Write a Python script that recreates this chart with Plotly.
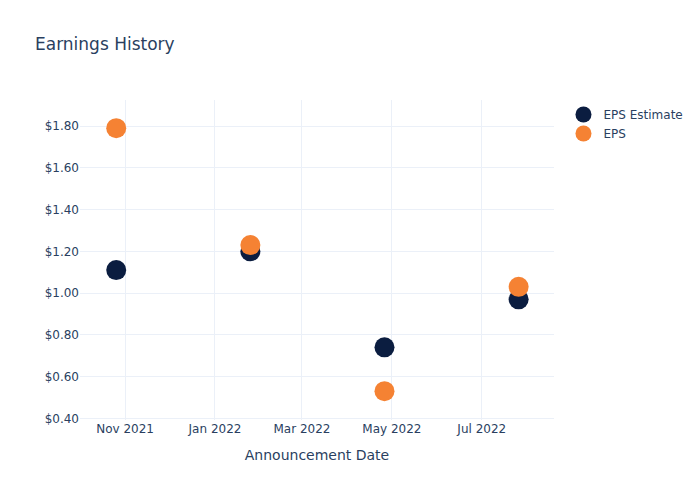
import plotly.graph_objects as go

dates = ["2021-10-26", "2022-01-25", "2022-04-26", "2022-07-26"]
eps_estimate = [1.11, 1.20, 0.74, 0.97]
eps_actual = [1.79, 1.23, 0.53, 1.03]

fig = go.Figure()
fig.add_trace(go.Scatter(x=dates, y=eps_estimate, mode="markers", name="EPS Estimate",
                         marker=dict(color="#0b1d40", size=20)))
fig.add_trace(go.Scatter(x=dates, y=eps_actual, mode="markers", name="EPS",
                         marker=dict(color="#f58233", size=20)))
fig.update_layout(
    template="plotly_white",
    width=700, height=500,
    font=dict(family="DejaVu Sans"),
    title=dict(text="Earnings History"),
    xaxis=dict(title="Announcement Date", range=["2021-10-01 10:00", "2022-08-19"]),
    yaxis=dict(tickformat="$.2f", range=[0.392, 1.925]),
)
fig.write_html("out.html")
